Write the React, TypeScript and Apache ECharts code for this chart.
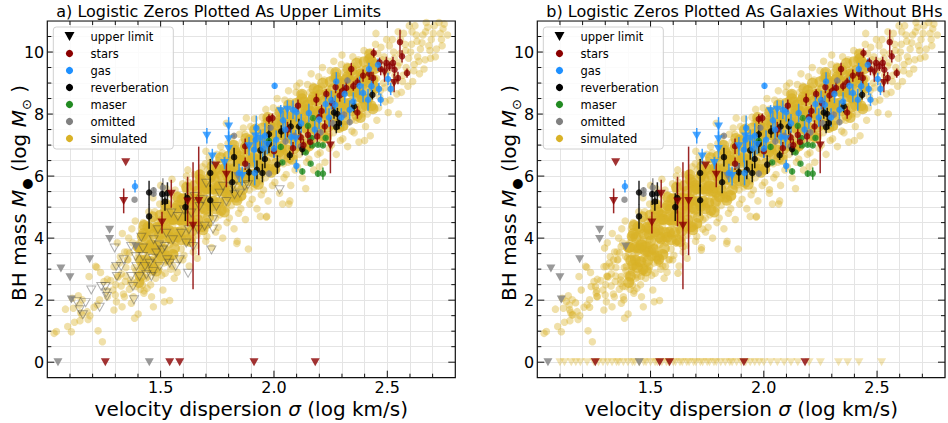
import React, { useEffect, useRef } from 'react';
import * as echarts from 'echarts';

const X_MIN = 1.0;
const X_MAX = 2.8;
const Y_MIN = -0.5;
const Y_MAX = 11;

const titles = ['a) Logistic Zeros Plotted As Upper Limits', 'b) Logistic Zeros Plotted As Galaxies Without BHs'];
const legendNames = ['upper limit', 'stars', 'gas', 'reverberation', 'maser', 'omitted', 'simulated'];
const xLabelTicks = [1.5, 2.0, 2.5];
const yLabelTicks = [0, 2, 4, 6, 8, 10];
const xMinorTicks = [1.1, 1.2, 1.3, 1.4, 1.6, 1.7, 1.8, 1.9, 2.1, 2.2, 2.3, 2.4, 2.6, 2.7];
const yMinorTicks = [0.5, 1, 1.5, 2.5, 3, 3.5, 4.5, 5, 5.5, 6.5, 7, 7.5, 8.5, 9, 9.5, 10.5];

// observed: [x, y, error]
const stars = [
  [1.873, 6.96, 0.25], [1.873, 6.4, 0.2], [1.978, 7.84, 0.15], [1.993, 7.87, 0.15], [2.0, 6.8, 0.2], [2.084, 6.9, 0.2],
  [2.106, 8.27, 0.2], [2.118, 7.25, 0.2], [2.15, 7.33, 0.25], [2.187, 8.46, 0.2], [2.191, 7.28, 0.2], [2.224, 7.6, 0.2],
  [2.231, 8.65, 0.15], [2.272, 8.87, 0.2], [2.304, 8.76, 0.2], [2.341, 9.45, 0.2], [2.368, 9.02, 0.15], [2.393, 9.24, 0.2],
  [2.368, 8.05, 0.2], [2.44, 9.97, 0.15], [2.437, 9.16, 0.2], [2.466, 9.67, 0.15], [2.471, 9.45, 0.2], [2.496, 9.65, 0.2],
  [2.51, 9.54, 0.15], [2.525, 9.65, 0.2], [2.532, 9.43, 0.2], [2.556, 10.32, 0.4], [2.565, 9.86, 0.2], [2.587, 9.32, 0.15],
  [2.547, 9.16, 0.2], [2.319, 8.84, 0.2], [2.257, 8.35, 0.2], [2.13, 7.0, 0.2], [2.06, 7.5, 0.25], [2.21, 8.1, 0.2],
  [2.29, 8.6, 0.2], [2.35, 8.9, 0.15], [2.42, 9.3, 0.2], [2.16, 7.1, 0.2], [2.2, 7.9, 0.2]
];
const starLimits = [
  [1.346, 6.45, 0], [1.337, 5.2, 0.4], [1.506, 4.5, 0.35], [1.547, 5.43, 0.45], [1.643, 4.4, 2.05], [1.668, 5.2, 1.75],
  [1.743, 6.34, 0], [1.79, 6.04, 0.4], [1.619, 5.18, 0.8], [2.249, 6.99, 0.9], [2.488, 9.34, 0.3], [2.53, 9.0, 0.3],
  [1.256, 0, 0], [1.54, 0, 0], [1.584, 0, 0], [1.912, 0, 0], [2.182, 0, 0]
];
const gas = [
  [1.387, 5.67, 0.2], [2.003, 8.91, 0.1], [2.099, 6.33, 0.2], [2.099, 8.06, 0.3], [2.253, 8.45, 0.3], [2.275, 9.05, 0.3],
  [2.312, 8.65, 0.3], [2.378, 8.91, 0.3], [2.419, 9.45, 0.2], [2.459, 9.59, 0.2], [2.463, 8.81, 0.2], [2.471, 8.46, 0.2],
  [2.503, 9.13, 0.2], [2.515, 8.81, 0.2], [2.415, 8.46, 0.35], [2.393, 8.68, 0.3], [2.334, 8.14, 0.3], [2.297, 7.89, 0.3],
  [2.243, 7.89, 0.3], [2.228, 8.32, 0.3], [2.199, 7.82, 0.3], [2.154, 8.03, 0.3], [2.076, 7.26, 0.3], [2.084, 8.14, 0.3],
  [2.01, 7.17, 0.3], [2.0, 6.88, 0.3], [1.951, 6.88, 0.4], [1.919, 7.17, 0.4], [1.912, 6.85, 0.4], [1.915, 6.1, 0.4],
  [1.922, 7.55, 0.4], [1.846, 6.1, 0.3], [2.04, 7.8, 0.3], [2.12, 7.7, 0.3], [2.18, 7.5, 0.3], [2.27, 8.3, 0.3],
  [2.35, 8.4, 0.3], [2.43, 8.9, 0.3], [1.96, 7.3, 0.4], [2.05, 7.5, 0.3]
];
const gasLimits = [
  [1.704, 7.3, 0.25], [1.728, 6.63, 0.25], [1.80, 7.6, 0.3], [1.80, 7.19, 0.25], [1.80, 6.87, 0.3], [1.782, 6.42, 0.2],
  [1.89, 6.96, 0.3], [1.919, 7.28, 0.4], [1.94, 7.2, 0.3], [2.03, 8.09, 0.2], [2.059, 8.14, 0.3], [2.096, 7.19, 0.3],
  [1.86, 6.0, 0.3], [1.97, 7.0, 0.3]
];
const reverberation = [
  [1.449, 5.47, 0.38], [1.449, 4.7, 0.4], [1.507, 5.42, 0.35], [1.519, 5.18, 0.3], [1.53, 5.45, 0.35], [1.609, 5.0, 0.45],
  [1.618, 5.29, 0.5], [1.719, 6.1, 0.45], [1.719, 5.22, 0.5], [1.816, 5.8, 0.35], [1.824, 6.61, 0.3], [1.89, 6.12, 0.3],
  [1.925, 6.2, 0.3], [1.949, 6.1, 0.3], [1.94, 6.83, 0.3], [1.96, 6.55, 0.3], [1.978, 7.35, 0.3], [1.978, 7.04, 0.3],
  [2.015, 6.37, 0.3], [2.032, 7.44, 0.2], [2.074, 7.6, 0.2], [2.07, 6.67, 0.15], [2.11, 7.6, 0.25], [2.125, 6.87, 0.2],
  [2.265, 8.05, 0.2], [2.28, 8.0, 0.2], [2.287, 7.71, 0.2], [2.275, 7.58, 0.2], [2.353, 8.25, 0.2], [2.434, 8.62, 0.15]
];
const maser = [
  [2.125, 6.15, 0.1], [2.162, 6.4, 0.05], [2.194, 6.08, 0.1], [2.216, 6.08, 0.2], [2.037, 6.44, 0.05], [2.03, 6.94, 0.1],
  [2.169, 6.99, 0.05], [2.194, 7.01, 0.05], [2.216, 6.99, 0.05], [2.228, 7.23, 0.05], [2.172, 7.87, 0.05], [2.15, 7.62, 0.05],
  [2.14, 6.76, 0.05], [1.978, 7.14, 0.1], [2.165, 7.23, 0.05]
];
const omitted = [
  [1.385, 5.24, 0], [1.469, 5.54, 0.1], [1.469, 5.43, 0.1], [1.51, 5.63, 0.3], [1.824, 7.3, 0.05], [1.978, 6.08, 0.1],
  [1.985, 7.56, 0.1], [1.882, 6.34, 0.1], [2.118, 6.96, 0.1], [2.051, 7.12, 0.1], [2.206, 7.41, 0.1], [2.324, 9.08, 0.1],
  [2.334, 7.74, 0.1], [2.309, 7.98, 0.1], [2.26, 7.7, 0.1], [2.09, 7.3, 0.1]
];
const omittedLimits = [
  [1.06, 3.02, 0], [1.10, 2.74, 0], [1.106, 2.02, 0], [1.187, 3.32, 0], [1.275, 4.27, 0], [1.275, 3.97, 0],
  [1.39, 3.73, 0], [1.047, 0, 0], [1.45, 0, 0], [1.84, 6.0, 0]
];

// simulated upper limits (panel a: open triangles; panel b: circles)
const simLimits = [
  [1.128, 1.96], [1.169, 1.92], [1.231, 1.77], [1.194, 2.33], [1.257, 2.44], [1.26, 2.23], [1.263, 2.12], [1.297, 3.68],
  [1.304, 3.09], [1.307, 2.76], [1.326, 3.09], [1.337, 3.3], [1.37, 2.76], [1.378, 2.44], [1.382, 2.01], [1.39, 3.41],
  [1.393, 3.09], [1.407, 2.76], [1.415, 4.03], [1.422, 3.68], [1.431, 3.09], [1.437, 2.82], [1.459, 2.76], [1.466, 3.35],
  [1.469, 3.95], [1.481, 3.52], [1.488, 4.27], [1.493, 3.78], [1.496, 3.09], [1.507, 3.62], [1.518, 3.73], [1.525, 4.16],
  [1.529, 3.3], [1.54, 3.19], [1.547, 4.81], [1.554, 3.95], [1.566, 3.09], [1.576, 4.7], [1.584, 3.3], [1.591, 4.16],
  [1.603, 4.91], [1.613, 3.84], [1.621, 2.87], [1.625, 4.27], [1.635, 4.81], [1.643, 3.73], [1.65, 5.34], [1.665, 4.27],
  [1.672, 5.02], [1.687, 5.24], [1.694, 4.38], [1.701, 5.77], [1.724, 3.62], [1.731, 4.29], [1.731, 4.59], [1.746, 5.02],
  [1.76, 5.45], [1.775, 5.67], [1.79, 5.18], [1.819, 5.67], [1.826, 5.4], [1.849, 5.45], [1.871, 5.67], [1.885, 5.72],
  [2.025, 5.56], [1.157, 1.53], [1.143, 1.69], [1.238, 2.44], [1.466, 2.92], [1.451, 3.19], [1.37, 3.73], [1.422, 3.41]
];

// simulated galaxies without BHs (panel b, y = 0)
const simZeroX = [
  1.10, 1.12, 1.15, 1.17, 1.19, 1.22, 1.25, 1.27, 1.29, 1.31, 1.33, 1.35, 1.36, 1.38, 1.40, 1.42, 1.43, 1.45, 1.47, 1.48,
  1.50, 1.52, 1.53, 1.55, 1.57, 1.58, 1.60, 1.61, 1.63, 1.64, 1.66, 1.67, 1.69, 1.70, 1.72, 1.73, 1.75, 1.76, 1.78, 1.79,
  1.81, 1.83, 1.85, 1.86, 1.88, 1.90, 1.92, 1.94, 1.96, 1.98, 2.00, 2.03, 2.06, 2.09, 2.12, 2.15, 2.20, 2.25, 2.33, 2.37,
  2.42, 2.52
];

// simulated detections, wide band (both panels)
const simulated = [
  [1.03, 0.93], [1.04, 0.99], [1.08, 1.71], [1.09, 1.15], [1.106, 0.98], [1.115, 1.74], [1.12, 1.29], [1.137, 2.14],
  [1.141, 1.84], [1.147, 1.6], [1.144, 1.34], [1.153, 1.52], [1.176, 1.63], [1.18, 1.38], [1.188, 1.5], [1.206, 1.77],
  [1.218, 3.06], [1.224, 1.01], [1.22, 1.85], [1.235, 2.89], [1.243, 0.66], [1.262, 2.31], [1.265, 2.67], [1.265, 2.11],
  [1.28, 2.63], [1.294, 3.08], [1.294, 1.68], [1.3, 2.17], [1.31, 2.78], [1.326, 2.46], [1.33, 1.79], [1.34, 2.11],
  [1.346, 2.78], [1.353, 3.3], [1.368, 2.54], [1.38, 2.11], [1.385, 1.42], [1.39, 2.44], [1.397, 2.81], [1.41, 2.35],
  [1.415, 2.97], [1.42, 2.49], [1.426, 2.22], [1.435, 2.71], [1.44, 2.38], [1.45, 3.08], [1.468, 1.79], [1.46, 2.11],
  [1.478, 2.71], [1.485, 3.19], [1.51, 2.33], [1.52, 2.87], [1.54, 1.99], [1.56, 2.71], [1.532, 3.21], [1.58, 3.3],
  [1.213, 3.09], [1.25, 2.6], [1.29, 2.33], [1.363, 3.52], [1.231, 2.01], [1.154, 2.01], [1.11, 2.06], [1.184, 2.76],
  [1.302, 2.5], [1.318, 3.2], [1.327, 2.85], [1.341, 3.55], [1.309, 3.85], [1.336, 2.2], [1.347, 3.05], [1.313, 2.75],
  [1.322, 3.4], [1.344, 2.6], [1.331, 4.15], [1.305, 1.95],
  [1.356, 3.3], [1.368, 2.65], [1.377, 3.85], [1.352, 3.55], [1.391, 2.95], [1.373, 4.3], [1.398, 3.35], [1.362, 2.35],
  [1.384, 3.05], [1.359, 4.0], [1.394, 3.7], [1.371, 1.9], [1.388, 4.55],
  [1.404, 3.5], [1.418, 2.9], [1.429, 4.1], [1.407, 3.85], [1.441, 3.2], [1.423, 4.5], [1.446, 3.65], [1.412, 2.6],
  [1.436, 3.35], [1.415, 4.3], [1.443, 2.75], [1.421, 3.05], [1.432, 3.9], [1.448, 4.85], [1.401, 1.55], [1.427, 2.3],
  [1.458, 3.75], [1.469, 3.15], [1.482, 4.4], [1.453, 4.1], [1.491, 3.5], [1.474, 4.85], [1.497, 3.95], [1.463, 2.9],
  [1.486, 3.6], [1.461, 4.6], [1.493, 3.0], [1.471, 3.35], [1.479, 4.2], [1.496, 5.1], [1.456, 2.5], [1.488, 4.55],
  [1.466, 5.3],
  [1.507, 4.05], [1.521, 3.5], [1.532, 4.7], [1.503, 4.4], [1.541, 3.8], [1.526, 5.1], [1.547, 4.25], [1.514, 3.2],
  [1.536, 3.95], [1.511, 4.85], [1.543, 3.35], [1.518, 3.7], [1.529, 4.5], [1.548, 5.4], [1.505, 2.8], [1.538, 4.8],
  [1.516, 1.95], [1.524, 5.6], [1.545, 3.0],
  [1.553, 4.4], [1.568, 3.85], [1.577, 5.0], [1.556, 4.7], [1.589, 4.1], [1.574, 5.4], [1.594, 4.55], [1.562, 3.5],
  [1.583, 4.25], [1.559, 5.2], [1.591, 3.65], [1.571, 4.0], [1.581, 4.8], [1.597, 5.75], [1.554, 3.1], [1.586, 5.1],
  [1.573, 2.9], [1.564, 5.55], [1.598, 3.3], [1.579, 4.55],
  [1.604, 4.75], [1.617, 4.15], [1.628, 5.35], [1.606, 5.05], [1.639, 4.45], [1.623, 5.8], [1.646, 4.9], [1.612, 3.85],
  [1.634, 4.6], [1.609, 5.55], [1.642, 4.0], [1.621, 4.35], [1.631, 5.15], [1.648, 6.05], [1.603, 3.45], [1.637, 5.5],
  [1.626, 3.1], [1.614, 6.0], [1.644, 3.55], [1.619, 4.9], [1.633, 4.85],
  [1.652, 5.0], [1.664, 4.5], [1.676, 5.65], [1.657, 5.3], [1.688, 4.75], [1.671, 6.1], [1.694, 5.2], [1.661, 4.1],
  [1.683, 4.9], [1.668, 5.85], [1.691, 4.3], [1.673, 4.65], [1.679, 5.45], [1.697, 6.4], [1.655, 3.75], [1.686, 5.75],
  [1.662, 3.35], [1.699, 3.9], [1.667, 5.15], [1.684, 6.3], [1.659, 4.85],
  [1.703, 5.4], [1.716, 4.8], [1.727, 6.0], [1.708, 5.7], [1.738, 5.1], [1.722, 6.45], [1.745, 5.55], [1.711, 4.45],
  [1.734, 5.25], [1.706, 6.2], [1.742, 4.65], [1.719, 5.0], [1.731, 5.8], [1.748, 6.7], [1.704, 4.05], [1.736, 6.1],
  [1.725, 3.7], [1.714, 6.6], [1.743, 4.2], [1.721, 5.5], [1.739, 5.95],
  [1.752, 5.7], [1.766, 5.1], [1.777, 6.3], [1.758, 6.0], [1.789, 5.4], [1.772, 6.75], [1.794, 5.85], [1.762, 4.75],
  [1.783, 5.55], [1.756, 6.5], [1.791, 4.95], [1.769, 5.3], [1.781, 6.1], [1.797, 7.05], [1.754, 4.35], [1.786, 6.4],
  [1.774, 4.0], [1.765, 6.95], [1.793, 4.5], [1.771, 5.8], [1.788, 6.25],
  [1.804, 6.0], [1.817, 5.4], [1.828, 6.6], [1.807, 6.3], [1.839, 5.7], [1.822, 7.05], [1.846, 6.15], [1.812, 5.05],
  [1.834, 5.85], [1.809, 6.8], [1.842, 5.25], [1.819, 5.6], [1.831, 6.4], [1.848, 7.35], [1.803, 4.65], [1.837, 6.7],
  [1.824, 4.3], [1.815, 7.25], [1.844, 4.8], [1.826, 6.1], [1.838, 3.9],
  [1.853, 6.3], [1.867, 5.7], [1.876, 6.9], [1.857, 6.6], [1.888, 6.0], [1.872, 7.35], [1.894, 6.45], [1.862, 5.35],
  [1.883, 6.15], [1.859, 7.1], [1.891, 5.55], [1.869, 5.9], [1.881, 6.7], [1.897, 7.6], [1.854, 4.95], [1.886, 7.0],
  [1.874, 4.6], [1.865, 7.55], [1.893, 5.1], [1.878, 6.4], [1.887, 3.65],
  [1.903, 6.6], [1.916, 6.0], [1.928, 7.2], [1.907, 6.9], [1.939, 6.3], [1.921, 7.6], [1.946, 6.75], [1.912, 5.65],
  [1.934, 6.45], [1.908, 7.4], [1.942, 5.85], [1.918, 6.2], [1.931, 7.0], [1.948, 7.9], [1.904, 5.25], [1.936, 7.3],
  [1.925, 4.95], [1.914, 7.85], [1.944, 5.4], [1.927, 6.65], [1.94, 4.7],
  [1.953, 6.9], [1.966, 6.3], [1.977, 7.5], [1.958, 7.2], [1.989, 6.6], [1.972, 7.9], [1.994, 7.05], [1.962, 5.95],
  [1.983, 6.75], [1.957, 7.7], [1.991, 6.15], [1.969, 6.5], [1.981, 7.3], [1.997, 8.2], [1.954, 5.55], [1.986, 7.6],
  [1.974, 5.2], [1.964, 8.15], [1.993, 5.7], [1.978, 6.95], [1.968, 4.7],
  [2.003, 7.15], [2.017, 6.55], [2.028, 7.75], [2.007, 7.45], [2.039, 6.85], [2.022, 8.15], [2.046, 7.3], [2.012, 6.2],
  [2.034, 7.0], [2.009, 7.95], [2.042, 6.4], [2.019, 6.75], [2.031, 7.55], [2.048, 8.45], [2.004, 5.8], [2.036, 7.85],
  [2.025, 5.45], [2.014, 8.5], [2.044, 5.95], [2.027, 7.2], [2.038, 5.1],
  [2.053, 7.4], [2.066, 6.8], [2.077, 8.0], [2.057, 7.7], [2.089, 7.1], [2.072, 8.4], [2.094, 7.55], [2.062, 6.45],
  [2.083, 7.25], [2.058, 8.2], [2.091, 6.65], [2.069, 7.0], [2.081, 7.8], [2.097, 8.7], [2.054, 6.05], [2.086, 8.1],
  [2.074, 5.7], [2.064, 8.75], [2.093, 6.2], [2.078, 7.45], [2.07, 5.2],
  [2.103, 7.65], [2.117, 7.05], [2.128, 8.25], [2.107, 7.95], [2.139, 7.35], [2.122, 8.65], [2.146, 7.8], [2.112, 6.7],
  [2.134, 7.5], [2.109, 8.45], [2.142, 6.9], [2.119, 7.25], [2.131, 8.05], [2.148, 8.95], [2.104, 6.3], [2.136, 8.35],
  [2.125, 5.95], [2.114, 9.0], [2.144, 6.45], [2.127, 7.7], [2.14, 5.6],
  [2.153, 7.9], [2.167, 7.3], [2.178, 8.5], [2.157, 8.2], [2.188, 7.6], [2.172, 8.9], [2.194, 8.05], [2.162, 6.95],
  [2.183, 7.75], [2.158, 8.7], [2.191, 7.15], [2.169, 7.5], [2.181, 8.3], [2.197, 9.2], [2.154, 6.55], [2.186, 8.6],
  [2.175, 6.2], [2.164, 9.3], [2.193, 6.7], [2.177, 7.95],
  [2.203, 8.1], [2.216, 7.5], [2.227, 8.7], [2.207, 8.4], [2.239, 7.8], [2.222, 9.1], [2.246, 8.25], [2.212, 7.15],
  [2.234, 7.95], [2.209, 8.9], [2.242, 7.35], [2.219, 7.7], [2.231, 8.5], [2.248, 9.4], [2.204, 6.75], [2.236, 8.8],
  [2.225, 6.45], [2.214, 9.5], [2.244, 6.9],
  [2.253, 8.35], [2.266, 7.75], [2.277, 8.95], [2.257, 8.65], [2.289, 8.05], [2.272, 9.35], [2.294, 8.5], [2.262, 7.4],
  [2.283, 8.2], [2.258, 9.15], [2.291, 7.6], [2.269, 7.95], [2.281, 8.75], [2.297, 9.6], [2.254, 7.0], [2.286, 9.05],
  [2.275, 6.7], [2.264, 9.7], [2.293, 7.15],
  [2.303, 8.55], [2.317, 7.95], [2.328, 9.15], [2.307, 8.85], [2.339, 8.25], [2.322, 9.55], [2.346, 8.7], [2.312, 7.6],
  [2.334, 8.4], [2.309, 9.35], [2.342, 7.8], [2.319, 8.15], [2.331, 8.95], [2.348, 9.85], [2.304, 7.2], [2.336, 9.25],
  [2.325, 6.95], [2.344, 7.45],
  [2.353, 8.75], [2.367, 8.15], [2.378, 9.35], [2.357, 9.05], [2.388, 8.45], [2.372, 9.75], [2.394, 8.9], [2.362, 7.8],
  [2.383, 8.6], [2.358, 9.55], [2.391, 8.0], [2.369, 8.35], [2.381, 9.15], [2.397, 10.05], [2.354, 7.4], [2.386, 9.45],
  [2.375, 7.1],
  [2.403, 8.95], [2.416, 8.35], [2.427, 9.55], [2.407, 9.25], [2.439, 8.65], [2.422, 9.95], [2.446, 9.1], [2.412, 8.0],
  [2.434, 8.8], [2.409, 9.75], [2.442, 8.2], [2.419, 8.55], [2.431, 9.35], [2.448, 10.25], [2.404, 7.6], [2.436, 9.65],
  [2.425, 7.3],
  [2.453, 9.15], [2.467, 8.55], [2.478, 9.75], [2.457, 9.45], [2.488, 8.85], [2.472, 10.15], [2.494, 9.3], [2.462, 8.2],
  [2.483, 9.0], [2.458, 9.95], [2.491, 8.4], [2.469, 8.75], [2.481, 9.55], [2.497, 10.4], [2.454, 7.8], [2.486, 9.85],
  [2.503, 9.4], [2.517, 8.8], [2.528, 10.0], [2.507, 9.7], [2.539, 9.1], [2.522, 10.4], [2.546, 9.55], [2.512, 8.45],
  [2.534, 9.25], [2.509, 10.2], [2.542, 8.65], [2.519, 9.0], [2.531, 9.8], [2.548, 10.65], [2.504, 8.05],
  [2.553, 9.65], [2.567, 9.05], [2.578, 10.25], [2.557, 9.95], [2.588, 9.35], [2.572, 10.6], [2.594, 9.8], [2.562, 8.7],
  [2.583, 9.5], [2.558, 10.4], [2.591, 8.9], [2.569, 9.25], [2.581, 10.05], [2.597, 10.85],
  [2.603, 10.0], [2.617, 9.4], [2.628, 10.55], [2.607, 10.25], [2.639, 9.7], [2.622, 10.85], [2.646, 10.1], [2.612, 9.05],
  [2.634, 9.85], [2.609, 10.65], [2.642, 9.3], [2.619, 9.6], [2.631, 10.35],
  [2.653, 10.3], [2.667, 9.75], [2.678, 10.8], [2.657, 10.55], [2.688, 10.05], [2.672, 10.95], [2.694, 10.4], [2.662, 9.45],
  [2.683, 10.2], [2.691, 9.8], [2.669, 10.65],
  [2.703, 10.6], [2.717, 10.1], [2.728, 10.95], [2.707, 10.85], [2.739, 10.4], [2.746, 10.75], [2.712, 9.85], [2.734, 10.6],
  [2.742, 10.2], [2.751, 10.9], [2.766, 10.55],
  [1.836, 3.83], [1.966, 4.68], [2.066, 5.1], [2.2, 6.3], [2.4, 7.15], [2.55, 8.0], [1.878, 7.87], [1.79, 7.7], [1.7, 6.8],
  [1.62, 6.2], [1.55, 5.9], [1.5, 5.7], [2.1, 8.9], [2.3, 9.9], [2.45, 10.6]
];

// simulated detections, dense core of the band (both panels)
const simulatedCore = [
  [1.404, 2.57], [1.441, 3.05], [1.422, 3.13], [1.413, 3.28], [1.447, 3.63], [1.431, 3.69], [1.408, 3.70], [1.436, 4.02],
  [1.419, 4.06], [1.444, 4.36], [1.427, 4.41], [1.411, 2.77], [1.433, 3.30], [1.449, 3.69], [1.402, 3.71], [1.425, 4.15],
  [1.467, 3.00], [1.456, 3.24], [1.489, 3.58], [1.478, 3.72], [1.462, 3.77], [1.495, 4.12], [1.471, 4.13], [1.484, 4.35],
  [1.453, 4.32], [1.498, 4.74], [1.465, 4.69], [1.488, 3.28], [1.476, 3.61], [1.459, 3.80], [1.493, 4.31], [1.481, 2.94],
  [1.529, 3.42], [1.514, 3.63], [1.546, 3.98], [1.501, 3.91], [1.535, 4.26], [1.520, 4.32], [1.542, 4.60], [1.510, 4.56],
  [1.532, 4.84], [1.524, 4.94], [1.505, 3.43], [1.540, 4.04], [1.516, 4.20], [1.548, 4.74], [1.537, 3.32], [1.523, 5.09],
  [1.554, 3.47], [1.591, 3.95], [1.572, 4.03], [1.563, 4.18], [1.597, 4.53], [1.581, 4.59], [1.558, 4.60], [1.586, 4.92],
  [1.569, 4.96], [1.594, 5.26], [1.577, 5.31], [1.561, 3.67], [1.583, 4.20], [1.599, 4.59], [1.552, 4.61], [1.575, 5.05],
  [1.617, 3.95], [1.606, 4.19], [1.639, 4.53], [1.628, 4.67], [1.612, 4.72], [1.645, 5.07], [1.621, 5.08], [1.634, 5.30],
  [1.603, 5.27], [1.648, 5.69], [1.615, 5.64], [1.638, 4.23], [1.626, 4.56], [1.609, 4.75], [1.643, 5.26], [1.631, 3.89],
  [1.679, 4.37], [1.664, 4.58], [1.696, 4.93], [1.651, 4.86], [1.685, 5.21], [1.670, 5.27], [1.692, 5.55], [1.660, 5.51],
  [1.682, 5.79], [1.674, 5.89], [1.655, 4.38], [1.690, 4.99], [1.666, 5.15], [1.698, 5.69], [1.687, 4.27], [1.673, 6.04],
  [1.704, 4.47], [1.741, 4.95], [1.722, 5.03], [1.713, 5.18], [1.747, 5.53], [1.731, 5.59], [1.708, 5.60], [1.736, 5.92],
  [1.719, 5.96], [1.744, 6.26], [1.727, 6.31], [1.711, 4.67], [1.733, 5.20], [1.749, 5.59], [1.702, 5.61], [1.725, 6.05],
  [1.767, 4.90], [1.756, 5.14], [1.789, 5.48], [1.778, 5.62], [1.762, 5.67], [1.795, 6.02], [1.771, 6.03], [1.784, 6.25],
  [1.753, 6.22], [1.798, 6.64], [1.765, 6.59], [1.788, 5.18], [1.776, 5.51], [1.759, 5.70], [1.793, 6.21], [1.781, 4.84],
  [1.829, 5.32], [1.814, 5.53], [1.846, 5.88], [1.801, 5.81], [1.835, 6.16], [1.820, 6.22], [1.842, 6.50], [1.810, 6.46],
  [1.832, 6.74], [1.824, 6.84], [1.805, 5.33], [1.840, 5.94], [1.816, 6.10], [1.848, 6.64], [1.837, 5.22], [1.823, 6.99],
  [1.854, 5.37], [1.891, 5.85], [1.872, 5.93], [1.863, 6.08], [1.897, 6.43], [1.881, 6.49], [1.858, 6.50], [1.886, 6.82],
  [1.869, 6.86], [1.894, 7.16], [1.877, 7.21], [1.861, 5.57], [1.883, 6.10], [1.899, 6.49], [1.852, 6.51], [1.875, 6.95],
  [1.917, 5.80], [1.906, 6.04], [1.939, 6.38], [1.928, 6.52], [1.912, 6.57], [1.945, 6.92], [1.921, 6.93], [1.934, 7.15],
  [1.903, 7.12], [1.948, 7.54], [1.915, 7.49], [1.938, 6.08], [1.926, 6.41], [1.909, 6.60], [1.943, 7.11], [1.931, 5.74],
  [1.979, 6.22], [1.964, 6.43], [1.996, 6.78], [1.951, 6.71], [1.985, 7.06], [1.970, 7.12], [1.992, 7.40], [1.960, 7.36],
  [1.982, 7.64], [1.974, 7.74], [1.955, 6.23], [1.990, 6.84], [1.966, 7.00], [1.998, 7.54], [1.987, 6.12], [1.973, 7.89],
  [2.004, 6.22], [2.041, 6.70], [2.022, 6.78], [2.013, 6.93], [2.047, 7.28], [2.031, 7.34], [2.008, 7.35], [2.036, 7.67],
  [2.019, 7.71], [2.044, 8.01], [2.027, 8.06], [2.011, 6.42], [2.033, 6.95], [2.049, 7.34], [2.002, 7.36], [2.025, 7.80],
  [2.067, 6.60], [2.056, 6.84], [2.089, 7.18], [2.078, 7.32], [2.062, 7.37], [2.095, 7.72], [2.071, 7.73], [2.084, 7.95],
  [2.053, 7.92], [2.098, 8.34], [2.065, 8.29], [2.088, 6.88], [2.076, 7.21], [2.059, 7.40], [2.093, 7.91], [2.081, 6.54],
  [2.129, 6.97], [2.114, 7.18], [2.146, 7.53], [2.101, 7.46], [2.135, 7.81], [2.120, 7.87], [2.142, 8.15], [2.110, 8.11],
  [2.132, 8.39], [2.124, 8.49], [2.105, 6.98], [2.140, 7.59], [2.116, 7.75], [2.148, 8.29], [2.137, 6.87], [2.123, 8.64],
  [2.154, 6.97], [2.191, 7.45], [2.172, 7.53], [2.163, 7.68], [2.197, 8.03], [2.181, 8.09], [2.158, 8.10], [2.186, 8.42],
  [2.169, 8.46], [2.194, 8.76], [2.177, 8.81], [2.161, 7.17], [2.183, 7.70], [2.199, 8.09], [2.152, 8.11], [2.175, 8.55],
  [2.217, 7.30], [2.206, 7.54], [2.239, 7.88], [2.228, 8.02], [2.212, 8.07], [2.245, 8.42], [2.221, 8.43], [2.234, 8.65],
  [2.203, 8.62], [2.248, 9.04], [2.215, 8.99], [2.238, 7.58], [2.226, 7.91], [2.209, 8.10], [2.243, 8.61], [2.231, 7.24],
  [2.279, 7.67], [2.264, 7.88], [2.296, 8.23], [2.251, 8.16], [2.285, 8.51], [2.270, 8.57], [2.292, 8.85], [2.260, 8.81],
  [2.282, 9.09], [2.274, 9.19], [2.255, 7.68], [2.290, 8.29], [2.266, 8.45], [2.298, 8.99], [2.287, 7.57], [2.273, 9.34],
  [2.304, 7.62], [2.341, 8.10], [2.322, 8.18], [2.313, 8.33], [2.347, 8.68], [2.331, 8.74], [2.308, 8.75], [2.336, 9.07],
  [2.319, 9.11], [2.344, 9.41], [2.327, 9.46], [2.311, 7.82], [2.333, 8.35], [2.349, 8.74], [2.302, 8.76], [2.325, 9.20],
  [2.367, 7.95], [2.356, 8.19], [2.389, 8.53], [2.378, 8.67], [2.362, 8.72], [2.395, 9.07], [2.371, 9.08], [2.384, 9.30],
  [2.353, 9.27], [2.398, 9.69], [2.365, 9.64], [2.388, 8.23], [2.376, 8.56], [2.359, 8.75], [2.393, 9.26], [2.381, 7.89],
  [2.429, 8.27], [2.414, 8.48], [2.446, 8.83], [2.401, 8.76], [2.435, 9.11], [2.420, 9.17], [2.442, 9.45], [2.410, 9.41],
  [2.432, 9.69], [2.424, 9.79], [2.405, 8.28], [2.440, 8.89], [2.416, 9.05], [2.448, 9.59], [2.437, 8.17], [2.423, 9.94]
];

const COLORS = {
  stars: '#8b0000',
  gas: '#1e90ff',
  reverberation: '#000000',
  maser: '#228b22',
  omitted: '#808080',
  simulated: '#D9B227'
};

const GRIDS = [
  { left: 47.3, top: 21, width: 408, height: 356.7 },
  { left: 537.3, top: 21, width: 408, height: 356.7 }
];

const FONT = 'DejaVu Sans';

function near(v: number, list: number[]) {
  return list.some((t) => Math.abs(t - v) < 1e-6);
}

function errorBars(data: number[][], color: string, g: number, name: string) {
  return {
    type: 'custom',
    name,
    xAxisIndex: g,
    yAxisIndex: g,
    data,
    silent: true,
    z: 3,
    renderItem: (params: any, api: any) => {
      const x = api.value(0);
      const y = api.value(1);
      const e = api.value(2);
      if (!e) return { type: 'group', children: [] };
      const p1 = api.coord([x, y - e]);
      const p2 = api.coord([x, y + e]);
      return {
        type: 'line',
        shape: { x1: p1[0], y1: p1[1], x2: p2[0], y2: p2[1] },
        style: { stroke: color, lineWidth: 1.5, opacity: 0.85 }
      };
    }
  };
}

function dots(data: number[][], color: string, g: number, name: string, tri: boolean) {
  return {
    type: 'scatter',
    name,
    xAxisIndex: g,
    yAxisIndex: g,
    data: data.map((d) => [d[0], d[1]]),
    symbol: tri ? 'triangle' : 'circle',
    symbolRotate: tri ? 180 : 0,
    symbolSize: tri ? [9, 8] : 6.5,
    itemStyle: { color },
    silent: true,
    z: 4
  };
}

function frameSeries(g: number) {
  const items: any[] = [];
  xLabelTicks.forEach((v) => items.push([v, 0, 1]));
  xMinorTicks.forEach((v) => items.push([v, 0, 0]));
  yLabelTicks.forEach((v) => items.push([v, 1, 1]));
  yMinorTicks.forEach((v) => items.push([v, 1, 0]));
  items.push([0, 2, 0]);
  return {
    type: 'custom',
    xAxisIndex: g,
    yAxisIndex: g,
    data: items,
    silent: true,
    z: 10,
    renderItem: (params: any, api: any) => {
      const v = api.value(0);
      const kind = api.value(1);
      const major = api.value(2);
      const len = major ? 7 : 4;
      const st = { stroke: '#111', lineWidth: 1 };
      const tl = api.coord([X_MIN, Y_MAX]);
      const br = api.coord([X_MAX, Y_MIN]);
      if (kind === 2) {
        return {
          type: 'rect',
          shape: { x: tl[0], y: tl[1], width: br[0] - tl[0], height: br[1] - tl[1] },
          style: { fill: 'none', stroke: '#111', lineWidth: 1.2 }
        };
      }
      if (kind === 0) {
        const px = api.coord([v, Y_MIN])[0];
        return {
          type: 'group',
          children: [
            { type: 'line', shape: { x1: px, y1: br[1], x2: px, y2: br[1] - len }, style: st },
            { type: 'line', shape: { x1: px, y1: tl[1], x2: px, y2: tl[1] + len }, style: st }
          ]
        };
      }
      const py = api.coord([X_MIN, v])[1];
      return {
        type: 'group',
        children: [
          { type: 'line', shape: { x1: tl[0], y1: py, x2: tl[0] + len, y2: py }, style: st },
          { type: 'line', shape: { x1: br[0], y1: py, x2: br[0] - len, y2: py }, style: st }
        ]
      };
    }
  };
}

function simSeries(data: number[][], g: number, name: string, size: number, opacity: number) {
  return {
    type: 'scatter', name, xAxisIndex: g, yAxisIndex: g, data,
    symbolSize: size, itemStyle: { color: COLORS.simulated, opacity }, silent: true, z: 1
  };
}

function panelSeries(g: number) {
  const s: any[] = [];
  s.push(simSeries(simulated, g, 'simulated', 7.5, 0.4));
  s.push(simSeries(simulatedCore, g, 'simulated core', 11, 0.7));
  if (g === 0) {
    s.push({
      type: 'scatter', name: 'sim limits', xAxisIndex: g, yAxisIndex: g, data: simLimits,
      symbol: 'triangle', symbolRotate: 180, symbolSize: [9, 8],
      itemStyle: { color: 'rgba(0,0,0,0)', borderColor: 'rgba(60,60,60,0.5)', borderWidth: 1 }, silent: true, z: 2
    });
  } else {
    s.push(simSeries(simLimits, g, 'sim limits', 7.5, 0.45));
    s.push({
      type: 'scatter', name: 'sim zeros', xAxisIndex: g, yAxisIndex: g, data: simZeroX.map((x) => [x, 0]),
      symbol: 'triangle', symbolRotate: 180, symbolSize: [9, 8],
      itemStyle: { color: COLORS.simulated, opacity: 0.35 }, silent: true, z: 2
    });
  }
  const groups: [number[][], string, string, boolean][] = [
    [omitted, COLORS.omitted, 'omitted', false],
    [omittedLimits, COLORS.omitted, 'omitted limits', true],
    [maser, COLORS.maser, 'maser', false],
    [reverberation, COLORS.reverberation, 'reverberation', false],
    [stars, COLORS.stars, 'stars', false],
    [starLimits, COLORS.stars, 'star limits', true],
    [gas, COLORS.gas, 'gas', false],
    [gasLimits, COLORS.gas, 'gas limits', true]
  ];
  groups.forEach(([d, c, n, tri]) => {
    s.push(errorBars(d, c, g, n + ' err'));
    s.push(dots(d, c, g, n, tri));
  });
  s.push(frameSeries(g));
  return s;
}

function panelGraphics(g: number) {
  const gr = GRIDS[g];
  const els: any[] = [];
  els.push({
    type: 'text', x: gr.left + 9, y: 11, z: 100,
    style: { text: titles[g], font: `16px "${FONT}"`, fill: '#000', textAlign: 'left', textVerticalAlign: 'middle' }
  });
  els.push({
    type: 'text', x: gr.left - 28.3, y: 193, rotation: Math.PI / 2, z: 100,
    style: {
      text: '{n|BH mass }{i|M}{s|●}{n| (log }{i|M}{s|⊙}{n| )}',
      textAlign: 'center', textVerticalAlign: 'middle', fill: '#000',
      rich: {
        n: { fontFamily: FONT, fontSize: 20, lineHeight: 28, fill: '#000' },
        i: { fontFamily: FONT, fontSize: 20, fontStyle: 'italic', lineHeight: 28, fill: '#000' },
        s: { fontFamily: FONT, fontSize: 13, lineHeight: 18, verticalAlign: 'bottom', fill: '#000' }
      }
    }
  });
  els.push({
    type: 'text', x: gr.left + gr.width / 2, y: 408.5, z: 100,
    style: {
      text: '{n|velocity dispersion }{i|σ}{n| (log km/s)}',
      textAlign: 'center', textVerticalAlign: 'middle', fill: '#000',
      rich: {
        n: { fontFamily: FONT, fontSize: 20, fill: '#000' },
        i: { fontFamily: FONT, fontSize: 20, fontStyle: 'italic', fill: '#000' }
      }
    }
  });
  // legend
  const lx = gr.left + 6;
  const ly = 27;
  els.push({
    type: 'rect', z: 100,
    shape: { x: lx, y: ly, width: 120, height: 122, r: 3 },
    style: { fill: 'rgba(255,255,255,0.85)', stroke: '#d0d0d0', lineWidth: 1 }
  });
  const legendColors = ['#000', COLORS.stars, COLORS.gas, COLORS.reverberation, COLORS.maser, COLORS.omitted, COLORS.simulated];
  legendNames.forEach((name, i) => {
    const cy = 36.5 + 17 * i;
    const cx = gr.left + 22.2;
    if (i === 0) {
      els.push({
        type: 'polygon', z: 101,
        shape: { points: [[cx - 5, cy - 4.5], [cx + 5, cy - 4.5], [cx, cy + 4.5]] },
        style: { fill: '#000' }
      });
    } else {
      els.push({ type: 'circle', z: 101, shape: { cx, cy, r: 3.6 }, style: { fill: legendColors[i] } });
    }
    els.push({
      type: 'text', z: 101, x: gr.left + 43.2, y: cy,
      style: { text: name, font: `11.5px "${FONT}"`, fill: '#000', textAlign: 'left', textVerticalAlign: 'middle' }
    });
  });
  return els;
}

export default function App() {
  const ref = useRef<HTMLDivElement>(null);
  useEffect(() => {
    if (!ref.current) return;
    const chart = echarts.init(ref.current, undefined, { renderer: 'svg' });
    const xAxes = GRIDS.map((_, g) => ({
      type: 'value', gridIndex: g, min: X_MIN, max: X_MAX, interval: 0.1,
      axisLine: { show: false }, axisTick: { show: false },
      axisLabel: {
        formatter: (v: number) => (near(v, xLabelTicks) ? v.toFixed(1) : ''),
        fontSize: 16, fontFamily: FONT, color: '#000', margin: 2
      },
      splitLine: { show: true, lineStyle: { color: '#e4e4e4', width: 1 } }
    }));
    const yAxes = GRIDS.map((_, g) => ({
      type: 'value', gridIndex: g, min: Y_MIN, max: Y_MAX, interval: 0.5,
      axisLine: { show: false }, axisTick: { show: false },
      axisLabel: {
        formatter: (v: number) => (near(v, yLabelTicks) ? String(Math.round(v)) : ''),
        fontSize: 16, fontFamily: FONT, color: '#000', margin: 3
      },
      splitLine: { show: true, lineStyle: { color: '#e4e4e4', width: 1 } }
    }));
    chart.setOption({
      animation: false,
      backgroundColor: '#fff',
      grid: GRIDS.map((g) => ({ ...g, containLabel: false })),
      xAxis: xAxes,
      yAxis: yAxes,
      series: [...panelSeries(0), ...panelSeries(1)],
      graphic: [...panelGraphics(0), ...panelGraphics(1)]
    });
    return () => chart.dispose();
  }, []);
  return <div ref={ref} style={{ width: 948, height: 423, position: 'absolute', left: 0, top: 0 }} />;
}
